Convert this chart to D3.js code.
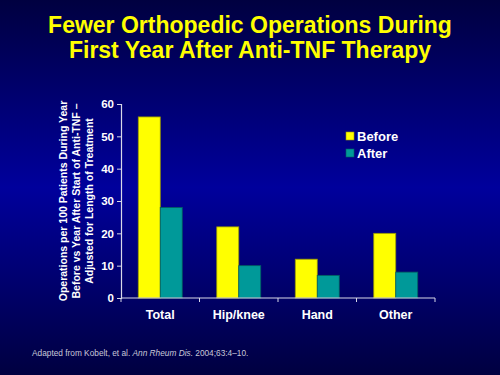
<!DOCTYPE html>
<html><head><meta charset="utf-8">
<script src="https://cdn.jsdelivr.net/npm/d3@7"></script>
<style>html,body{margin:0;padding:0;background:#000060;}svg{display:block;}</style>
</head><body>
<svg id="c" width="500" height="375"></svg>
<script>
const categories = ["Total", "Hip/knee", "Hand", "Other"];
const seriesNames = ["Before", "After"];
const beforeValues = [56, 22, 12, 20];
const afterValues = [28, 10, 7, 8];
const yTicks = [0, 10, 20, 30, 40, 50, 60];
const titleLines = ["Fewer Orthopedic Operations During", "First Year After Anti-TNF Therapy"];
const yLabelLines = ["Operations per 100 Patients During Year", "Before vs Year After Start of Anti-TNF \u2013", "Adjusted for Length of Treatment"];
const colors = ["#ffff00", "#009999"];
const strokes = ["#999900", "#006060"];

(function(){
const svg = d3.select("#c");
const defs = svg.append("defs");
const g = defs.append("linearGradient").attr("id","bg").attr("x1",0).attr("y1",0).attr("x2",0).attr("y2",1);
g.append("stop").attr("offset","0%").attr("stop-color","#000040");
g.append("stop").attr("offset","50%").attr("stop-color","#00009c");
g.append("stop").attr("offset","100%").attr("stop-color","#000040");
svg.append("rect").attr("width",500).attr("height",375).attr("fill","url(#bg)");

const font = "Arial, 'Liberation Sans', sans-serif";
svg.append("g").selectAll("text").data(titleLines).join("text")
  .attr("x",250).attr("y",(d,i)=>33+i*25).attr("text-anchor","middle")
  .attr("font-family",font).attr("font-weight","bold").attr("font-size",23)
  .attr("fill","#ffff00").text(d=>d);

const pLeft=121, pRight=435, pTop=104, pBottom=298;
const x = d3.scaleBand().domain(categories).range([pLeft,pRight]).paddingInner(0.44).paddingOuter(0.22);
const xs = d3.scaleBand().domain(seriesNames).range([0,x.bandwidth()]);
const y = d3.scaleLinear().domain([0,60]).range([pBottom,pTop]);

const data = categories.map((c,i)=>({c, vals:[beforeValues[i], afterValues[i]]}));
const groups = svg.append("g").selectAll("g").data(data).join("g")
  .attr("transform",d=>`translate(${x(d.c)},0)`);
groups.selectAll("rect").data(d=>d.vals.map((v,k)=>({v,k}))).join("rect")
  .attr("x",d=>xs(seriesNames[d.k])).attr("width",xs.bandwidth())
  .attr("y",d=>y(d.v)).attr("height",d=>pBottom-y(d.v))
  .attr("fill",d=>colors[d.k]).attr("stroke",d=>strokes[d.k]).attr("stroke-width",0.8);

const ya = svg.append("g").attr("transform",`translate(${pLeft},0)`)
  .call(d3.axisLeft(y).tickValues(yTicks).tickSize(4).tickPadding(3));
ya.select(".domain").attr("stroke","#d8d8e8").attr("stroke-width",1.2);
ya.selectAll(".tick line").attr("stroke","#d8d8e8");
ya.selectAll("text").attr("fill","#ffffff").attr("font-family",font).attr("font-weight","bold").attr("font-size",11.5);

const xa = svg.append("g").attr("transform",`translate(0,${pBottom})`);
xa.append("line").attr("x1",pLeft).attr("x2",pRight).attr("stroke","#d8d8e8").attr("stroke-width",1.2);
const step = (pRight-pLeft)/categories.length;
xa.selectAll("line.t").data(d3.range(categories.length+1)).join("line").attr("class","t")
  .attr("x1",i=>pLeft+i*step).attr("x2",i=>pLeft+i*step).attr("y1",0).attr("y2",4)
  .attr("stroke","#d8d8e8");
xa.selectAll("text").data(categories).join("text")
  .attr("x",d=>x(d)+x.bandwidth()/2).attr("y",21).attr("text-anchor","middle")
  .attr("fill","#ffffff").attr("font-family",font).attr("font-weight","bold").attr("font-size",12.5)
  .text(d=>d);

svg.append("g").attr("transform","translate(67,201) rotate(-90)")
  .selectAll("text").data(yLabelLines).join("text")
  .attr("x",0).attr("y",(d,i)=>i*13).attr("text-anchor","middle")
  .attr("fill","#ffffff").attr("font-family",font).attr("font-weight","bold").attr("font-size",10.5)
  .text(d=>d);

const lg = svg.append("g").selectAll("g").data(seriesNames).join("g")
  .attr("transform",(d,i)=>`translate(346,${132+i*17})`);
lg.append("rect").attr("width",8).attr("height",8).attr("fill",(d,i)=>colors[i]).attr("stroke",(d,i)=>strokes[i]).attr("stroke-width",0.6);
lg.append("text").attr("x",11).attr("y",8.5).attr("fill","#ffffff").attr("font-family",font)
  .attr("font-weight","bold").attr("font-size",13).text(d=>d);

const ft = svg.append("text").attr("x",32).attr("y",356).attr("fill","#c8c8d8")
  .attr("font-family",font).attr("font-size",8.3);
ft.append("tspan").text("Adapted from Kobelt, et al. ");
ft.append("tspan").attr("font-style","italic").text("Ann Rheum Dis.");
ft.append("tspan").text(" 2004;63:4\u201310.");
})();
</script>
</body></html>
